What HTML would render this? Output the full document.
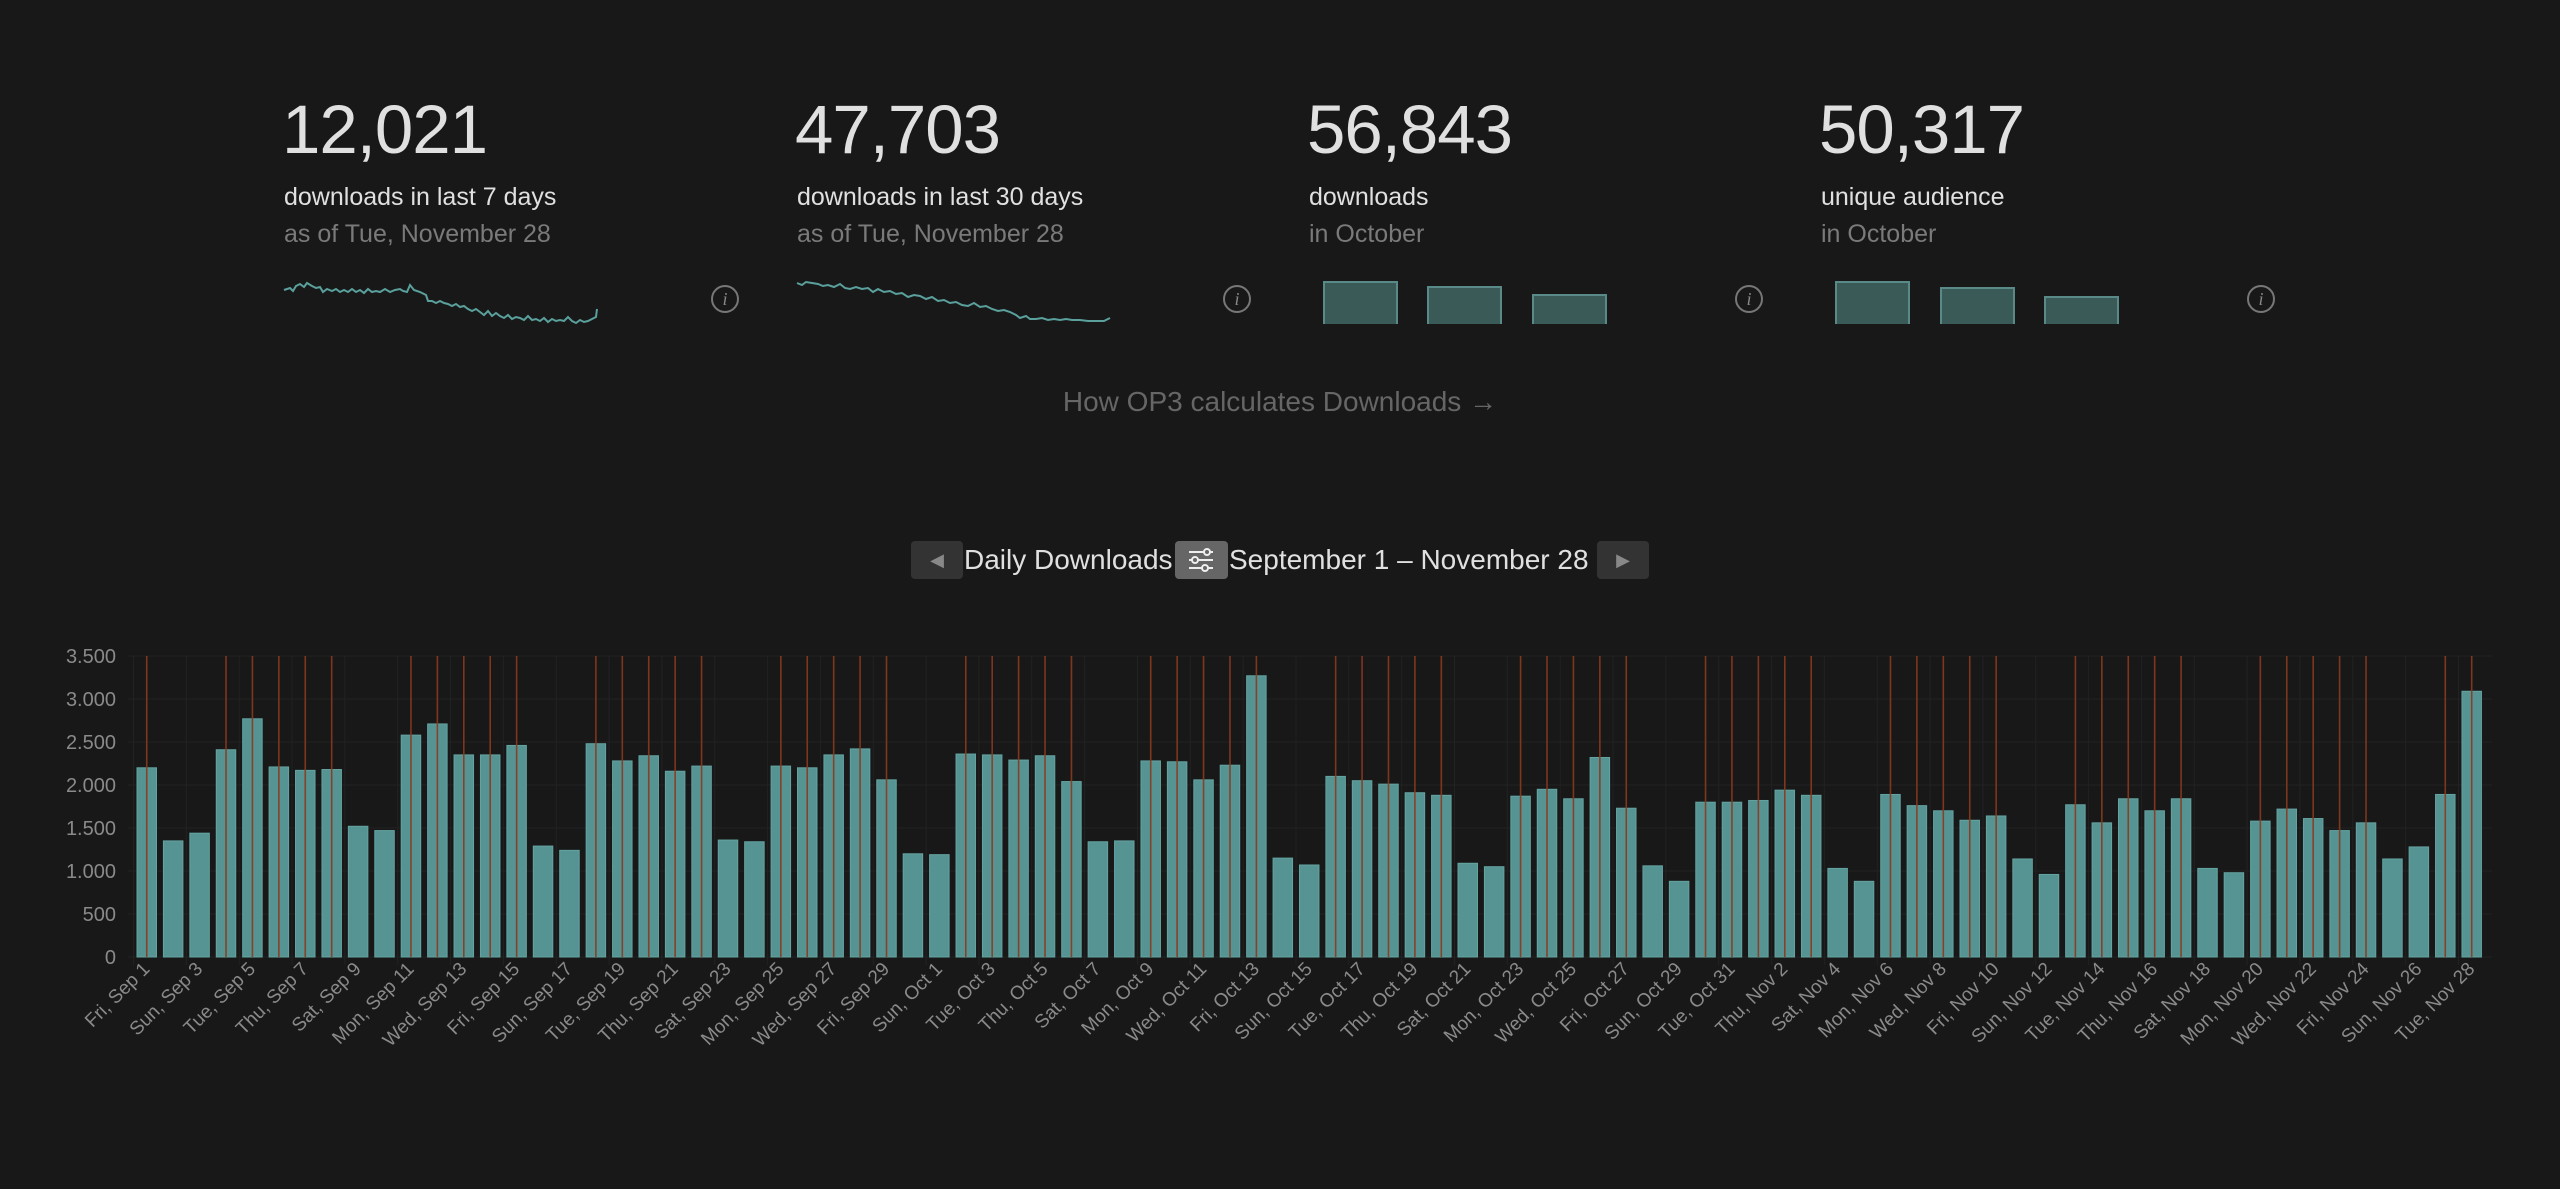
<!DOCTYPE html>
<html><head><meta charset="utf-8"><style>
body{margin:0;background:#181818;width:2560px;height:1189px;overflow:hidden;font-family:"Liberation Sans",sans-serif;position:relative}
.n{position:absolute;font-size:69px;color:#e0e0e0;top:90px;letter-spacing:-1px}
.s{position:absolute;font-size:25px;color:#e0e0e0;top:183px}
.g{position:absolute;font-size:25px;color:#7a7a7a;top:220px}
.i{position:absolute;width:24px;height:24px;border:2px solid #777;border-radius:50%;color:#888;font:italic 18px "Liberation Serif",serif;text-align:center;line-height:24px;top:285px}
.b{position:absolute;background:#3a5a58;border:2px solid #5a8a88;border-bottom:none;box-sizing:border-box}
</style></head><body>
<div class="n" style="left:282px">12,021</div><div class="s" style="left:284px">downloads in last 7 days</div><div class="g" style="left:284px">as of Tue, November 28</div>
<div class="n" style="left:795px">47,703</div><div class="s" style="left:797px">downloads in last 30 days</div><div class="g" style="left:797px">as of Tue, November 28</div>
<div class="n" style="left:1307px">56,843</div><div class="s" style="left:1309px">downloads</div><div class="g" style="left:1309px">in October</div>
<div class="n" style="left:1819px">50,317</div><div class="s" style="left:1821px">unique audience</div><div class="g" style="left:1821px">in October</div>
<div class="i" style="left:711px">i</div><div class="i" style="left:1223px">i</div><div class="i" style="left:1735px">i</div><div class="i" style="left:2247px">i</div>
<svg style="position:absolute;left:0;top:0" width="2560" height="400">
<polyline fill="none" stroke="#5aa09c" stroke-width="2" points="284,290 290,288 293,291 296,286 300,284 304,287 307,283 312,286 316,288 320,287 323,292 327,289 332,291 336,289 340,292 344,290 348,292 352,289 356,292 360,290 364,293 368,289 372,292 376,291 380,292 385,289 390,292 395,290 400,289 403,291 407,292 410,285 414,290 420,292 426,295 428,301 432,301 436,303 440,301 444,303 448,304 452,306 456,304 460,307 464,306 468,309 472,311 476,309 480,312 484,315 488,311 492,316 496,313 500,316 504,318 508,315 512,319 516,317 520,318 524,320 528,316 532,320 536,319 540,321 544,318 548,322 552,319 556,321 560,320 564,321 568,317 572,321 576,323 580,320 584,322 588,321 592,319 596,317 597,309"/>
<polyline fill="none" stroke="#5aa09c" stroke-width="2" points="797,283 802,285 806,282 812,283 818,284 823,286 828,285 834,287 840,284 845,288 850,289 856,287 862,289 868,288 873,292 878,289 884,292 890,291 896,294 902,293 908,297 914,295 920,296 926,299 932,297 938,301 944,300 950,303 956,302 962,305 968,306 974,303 980,307 986,306 992,309 998,311 1004,310 1010,312 1016,315 1020,318 1026,316 1030,319 1036,319 1042,318 1048,320 1054,319 1060,320 1066,319 1072,320 1080,320 1088,321 1096,321 1104,321 1110,318"/>
</svg>
<div class="b" style="left:1323px;top:281px;width:75px;height:43px"></div>
<div class="b" style="left:1427px;top:286px;width:75px;height:38px"></div>
<div class="b" style="left:1532px;top:294px;width:75px;height:30px"></div>
<div class="b" style="left:1835px;top:281px;width:75px;height:43px"></div>
<div class="b" style="left:1940px;top:287px;width:75px;height:37px"></div>
<div class="b" style="left:2044px;top:296px;width:75px;height:28px"></div>
<div style="position:absolute;left:0;width:2560px;text-align:center;top:386px;font-size:28px;color:#666">How OP3 calculates Downloads →</div>
<div style="position:absolute;left:911px;top:541px;width:52px;height:38px;background:#333;border-radius:4px;color:#888;text-align:center;line-height:38px;font-size:18px">◀</div>
<div style="position:absolute;left:964px;top:541px;line-height:38px;font-size:28px;color:#e0e0e0">Daily Downloads</div>
<div style="position:absolute;left:1175px;top:541px;width:53px;height:38px;background:#666;border-radius:4px"><svg width="53" height="38"><g stroke="#eee" stroke-width="2" fill="#666"><line x1="14" y1="11" x2="38" y2="11"/><line x1="14" y1="19" x2="38" y2="19"/><line x1="14" y1="27" x2="38" y2="27"/><circle cx="32" cy="11" r="3"/><circle cx="20" cy="19" r="3"/><circle cx="30" cy="27" r="3"/></g></svg></div>
<div style="position:absolute;left:1229px;top:541px;line-height:38px;font-size:28px;color:#e0e0e0">September 1 – November 28</div>
<div style="position:absolute;left:1597px;top:541px;width:52px;height:38px;background:#333;border-radius:4px;color:#888;text-align:center;line-height:38px;font-size:18px">▶</div>
<svg id="c" style="position:absolute;left:0;top:600px" width="2560" height="589" font-family="Liberation Sans, sans-serif">
<g fill="#8a8a8a" font-size="20" text-anchor="end">
<text x="116" y="63">3.500</text><text x="116" y="106">3.000</text><text x="116" y="149">2.500</text><text x="116" y="192">2.000</text><text x="116" y="235">1.500</text><text x="116" y="278">1.000</text><text x="116" y="321">500</text><text x="116" y="364">0</text>
</g>
<g id="grid"></g><g id="bars"></g>
<g id="lab" fill="#8a8a8a" font-size="19" text-anchor="end">
<text>Fri, Sep 1</text><text>Sun, Sep 3</text><text>Tue, Sep 5</text><text>Thu, Sep 7</text><text>Sat, Sep 9</text><text>Mon, Sep 11</text><text>Wed, Sep 13</text><text>Fri, Sep 15</text><text>Sun, Sep 17</text><text>Tue, Sep 19</text><text>Thu, Sep 21</text><text>Sat, Sep 23</text><text>Mon, Sep 25</text><text>Wed, Sep 27</text><text>Fri, Sep 29</text><text>Sun, Oct 1</text><text>Tue, Oct 3</text><text>Thu, Oct 5</text><text>Sat, Oct 7</text><text>Mon, Oct 9</text><text>Wed, Oct 11</text><text>Fri, Oct 13</text><text>Sun, Oct 15</text><text>Tue, Oct 17</text><text>Thu, Oct 19</text><text>Sat, Oct 21</text><text>Mon, Oct 23</text><text>Wed, Oct 25</text><text>Fri, Oct 27</text><text>Sun, Oct 29</text><text>Tue, Oct 31</text><text>Thu, Nov 2</text><text>Sat, Nov 4</text><text>Mon, Nov 6</text><text>Wed, Nov 8</text><text>Fri, Nov 10</text><text>Sun, Nov 12</text><text>Tue, Nov 14</text><text>Thu, Nov 16</text><text>Sat, Nov 18</text><text>Mon, Nov 20</text><text>Wed, Nov 22</text><text>Fri, Nov 24</text><text>Sun, Nov 26</text><text>Tue, Nov 28</text>
</g>
</svg>
<script>
var v=[2200,1350,1440,2410,2770,2210,2170,2180,1520,1470,2580,2710,2350,2350,2460,1290,1240,2480,2280,2340,2160,2220,1360,1340,2220,2200,2350,2420,2060,1200,1190,2360,2350,2290,2340,2040,1340,1350,2280,2270,2060,2230,3270,1150,1070,2100,2050,2010,1910,1880,1090,1050,1870,1950,1840,2320,1730,1060,880,1800,1800,1820,1940,1880,1030,880,1890,1760,1700,1590,1640,1140,960,1770,1560,1840,1700,1840,1030,980,1580,1720,1610,1470,1560,1140,1280,1890,3090];
var T=56,B=357,sc=(B-T)/3500,x0=137,p=26.42,w=19.5,h="";
var g="";for(var k=0;k<8;k++){var y=B-k*500*sc;g+='<line x1="128" x2="2492" y1="'+y+'" y2="'+y+'" stroke="#222" stroke-width="1"/>';}
for(var i=0;i<89;i+=2){var gx=x0+i*p-3.5;g+='<line x1="'+gx+'" x2="'+gx+'" y1="'+T+'" y2="'+(B+8)+'" stroke="#222"/>';}
document.getElementById("grid").innerHTML=g;
for(var i=0;i<89;i++){var x=x0+i*p,yt=B-v[i]*sc,d=(5+i)%7;
h+='<rect x="'+x+'" y="'+yt+'" width="'+w+'" height="'+(B-yt)+'" fill="#569494" stroke="#63a3a0" stroke-width="1"/>';
if(d!=0&&d!=6)h+='<line x1="'+(x+w/2)+'" x2="'+(x+w/2)+'" y1="'+T+'" y2="'+B+'" stroke="#8a3a1e" stroke-width="1.6" opacity="0.9"/>';}
document.getElementById("bars").innerHTML=h;
var t=document.getElementById("lab").children;
for(var j=0;j<t.length;j++){var cx=x0+2*j*p+w/2+4,cy=370;t[j].setAttribute("x",cx);t[j].setAttribute("y",cy);t[j].setAttribute("transform","rotate(-45 "+cx+" "+cy+")");}
</script>
</body></html>
